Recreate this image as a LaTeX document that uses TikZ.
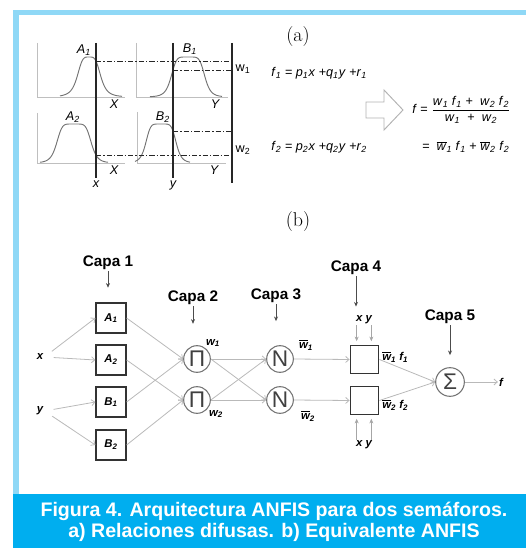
\documentclass[tikz,border=0pt]{standalone}
\usepackage{fontspec}
\usepackage{amsmath}
\usepackage{xcolor}
\usetikzlibrary{arrows.meta}
\newfontfamily\arial{Liberation Sans}
\definecolor{framebl}{RGB}{143,216,246}
\definecolor{capbl}{RGB}{0,174,239}
\definecolor{linkgr}{RGB}{185,185,185}
\definecolor{nodegr}{RGB}{115,115,115}
\newcommand{\sv}[2]{\textit{#1}\textsubscript{\textit{#2}}}
\newcommand{\wb}[1]{$\overline{\mbox{\textit{w}}}$\textsubscript{\textit{#1}}}

\begin{document}
\begin{tikzpicture}[x=0.75pt,y=0.75pt,yscale=-1,xscale=1,
  every node/.style={font=\arial\fontsize{9.5}{10}\selectfont,inner sep=0.75pt},
  lnk/.style={draw=linkgr,line width=0.6pt,-{Straight Barb[length=2.5pt,width=4.5pt]}},
  capaarr/.style={draw=black!70,line width=0.5pt,-{Stealth[length=3.5pt,width=3pt]}},
  capa/.style={font=\arial\bfseries\fontsize{11.5}{13}\selectfont},
  mfbox/.style={draw=black!80,line width=0.9pt,minimum size=22.5pt,inner sep=0pt,font=\arial\bfseries\itshape\fontsize{8.5}{10}\selectfont},
  prodbox/.style={draw=black!80,line width=0.9pt,minimum width=21.5pt,minimum height=20.5pt,inner sep=0pt},
  opnode/.style={circle,draw=nodegr,line width=0.8pt,minimum size=20pt,inner sep=0pt,text=black!75,font=\arial\fontsize{17}{17}\selectfont},
  lbl/.style={font=\arial\bfseries\itshape\fontsize{8.5}{10}\selectfont},
  axis/.style={draw=black!25,line width=0.6pt},
  mf/.style={draw=black!55,line width=0.7pt},
  cut/.style={draw=black!85,line width=0.8pt},
  level/.style={draw=black!85,line width=0.7pt,dash pattern=on 4pt off 1.5pt on 1pt off 1.5pt},
  captxt/.style={text=white,font=\arial\bfseries\fontsize{14.7}{15.75}\selectfont}]
  \useasboundingbox (0,0) rectangle (526,548);
  %Frame
  \fill[framebl] (13,10) rectangle (526,15);
  \fill[framebl] (13,10) rectangle (19,494);
  \fill[capbl] (13,494) rectangle (526,548);

  % Text Node
  \node[font=\rmfamily\fontsize{15}{15}\selectfont] (ta) at (298,37) {(a)};
  \node[font=\rmfamily\fontsize{15}{15}\selectfont] (tb) at (298,222) {(b)};

  %Axes
  \draw[axis] (37,43) -- (37,97) -- (125,97);
  \draw[axis] (136,43) -- (136,97) -- (228,97);
  \draw[axis] (37,113) -- (37,163) -- (125,163);
  \draw[axis] (137,112) -- (137,163) -- (226,163);
  %Membership curves
  \draw[mf] plot[domain=60:122,samples=70,smooth] (\x,{97-40/(1+(abs(\x-89)/12)^4)});
  \draw[mf] plot[domain=150:222,samples=70,smooth] (\x,{97-40/(1+(abs(\x-188)/17)^6)});
  \draw[mf] plot[domain=40:108,samples=70,smooth] (\x,{163-39/(1+(abs(\x-74)/17.5)^6)});
  \draw[mf] plot[domain=135:190,samples=70,smooth] (\x,{163-39/(1+(abs(\x-161)/15.4)^6)});
  %Cut lines
  \draw[cut] (96,43) -- (96,178);
  \draw[cut] (173,43) -- (173,178);
  \draw[cut] (232,43) -- (232,183);
  \draw[level] (96,61) -- (232,61);
  \draw[level] (173,70) -- (232,70);
  \draw[level] (173,131) -- (232,131);
  \draw[level] (96,155) -- (232,155);

  % Text Node
  \node[font=\arial\itshape\fontsize{9.5}{10}\selectfont] (la1) at (84,50) {A\textsubscript{1}};
  \node[font=\arial\itshape\fontsize{9.5}{10}\selectfont] (lb1) at (190,49) {B\textsubscript{1}};
  \node[font=\arial\itshape\fontsize{9.5}{10}\selectfont] (la2) at (73,117) {A\textsubscript{2}};
  \node[font=\arial\itshape\fontsize{9.5}{10}\selectfont] (lb2) at (163,117) {B\textsubscript{2}};
  \node[font=\arial\itshape\fontsize{9.5}{10}\selectfont] (lx1) at (114,104) {X};
  \node[font=\arial\itshape\fontsize{9.5}{10}\selectfont] (ly1) at (215,104) {Y};
  \node[font=\arial\itshape\fontsize{9.5}{10}\selectfont] (lx2) at (114,170) {X};
  \node[font=\arial\itshape\fontsize{9.5}{10}\selectfont] (ly2) at (214,170) {Y};
  \node[font=\arial\itshape\fontsize{9.5}{10}\selectfont] (lx) at (96,184) {x};
  \node[font=\arial\itshape\fontsize{9.5}{10}\selectfont] (ly) at (173,185) {y};
  \node (lw1) at (243,69) {w\textsubscript{1}};
  \node (lw2) at (243,150) {w\textsubscript{2}};
  \node[anchor=west] (rule1) at (270,73) {\sv{f}{1} = \sv{p}{1}\textit{x} +\sv{q}{1}\textit{y} +\sv{r}{1}};
  \node[anchor=west] (rule2) at (270,147) {\sv{f}{2} = \sv{p}{2}\textit{x} +\sv{q}{2}\textit{y} +\sv{r}{2}};
  %Hollow arrow
  \draw[draw=black!30,line width=0.7pt,fill=white] (366,102) -- (384,102) -- (384,90) -- (403,110) -- (384,130) -- (384,118) -- (366,118) -- cycle;
  \node[anchor=west] (ffrac) at (411,110) {\textit{f} = $\dfrac{\mbox{\sv{w}{1} \sv{f}{1} + \ \sv{w}{2} \sv{f}{2}}}{\mbox{\sv{w}{1} \ + \ \sv{w}{2}}}$};
  \node[anchor=west] (fbar) at (421,147) {= \ \wb{1} \sv{f}{1} + \wb{2} \sv{f}{2}};

  %Network nodes
  \node[lbl] (xin) at (40,357) {x};
  \node[lbl] (yin) at (40,411) {y};
  \node[mfbox] (A1) at (111,318) {A\textsubscript{1}};
  \node[mfbox] (A2) at (111,360) {A\textsubscript{2}};
  \node[mfbox] (B1) at (111,402) {B\textsubscript{1}};
  \node[mfbox] (B2) at (111,445) {B\textsubscript{2}};
  \node[opnode] (P1) at (197,359) {Π};
  \node[opnode] (P2) at (197,400) {Π};
  \node[opnode] (N1) at (280,359) {N};
  \node[opnode] (N2) at (280,400) {N};
  \node[prodbox] (L1) at (364.5,359.5) {};
  \node[prodbox] (L2) at (364.5,400.5) {};
  \node[opnode,minimum size=21.5pt] (S) at (450,382) {Σ};
  \node[lbl] (fout) at (501,382) {f};

  %Layer labels
  \node[capa] (c1) at (108,263) {Capa 1};
  \node[capa] (c2) at (193,298) {Capa 2};
  \node[capa] (c3) at (276,296) {Capa 3};
  \node[capa] (c4) at (356,268) {Capa 4};
  \node[capa] (c5) at (450,317) {Capa 5};
  \node[lbl] (xy1) at (364,320) {x y};
  \node[lbl] (xy2) at (364,445) {x y};
  \draw[capaarr,shorten >=11pt] (c1.south) -- (c1.south |- A1.north);
  \draw[capaarr,shorten >=16pt] (c2.south) -- (c2.south |- P1.north);
  \draw[capaarr,shorten >=18pt] (c3.south) -- (c3.south |- N1.north);
  \draw[capaarr,shorten >=6pt] (c4.south) -- (c4.south |- xy1.north);
  \draw[capaarr,shorten >=9pt] (c5.south) -- (c5.south |- S.north);

  % Text Node
  \draw[capaarr,draw=black!35,shorten >=3pt] ([xshift=-5.5pt]xy1.south) -- ([xshift=-5.5pt]xy1.south |- L1.north);
  \draw[capaarr,draw=black!35,shorten >=3pt] ([xshift=5.5pt]xy1.south) -- ([xshift=5.5pt]xy1.south |- L1.north);
  \draw[capaarr,draw=black!35,shorten >=3pt] ([xshift=-5.5pt]xy2.north) -- ([xshift=-5.5pt]xy2.north |- L2.south);
  \draw[capaarr,draw=black!35,shorten >=3pt] ([xshift=5.5pt]xy2.north) -- ([xshift=5.5pt]xy2.north |- L2.south);
  \node[lbl] (w1) at (213,343) {w\textsubscript{1}};
  \node[lbl] (w2) at (216,414) {w\textsubscript{2}};
  \node[lbl] (wb1) at (306,345) {\wb{1}};
  \node[lbl] (wb2) at (308,416) {\wb{2}};
  \node[lbl,anchor=west] (wf1) at (381,357) {\wb{1} \sv{f}{1}};
  \node[lbl,anchor=west] (wf2) at (381,405) {\wb{2} \sv{f}{2}};

  %Connections
  \draw[lnk,shorten <=7pt] (xin.east) -- (A1.west);
  \draw[lnk,shorten <=7pt] (xin.east) -- (A2.west);
  \draw[lnk,shorten <=7pt] (yin.east) -- (B1.west);
  \draw[lnk,shorten <=7pt] (yin.east) -- (B2.west);
  \draw[lnk] (A1.east) -- (P1.west);
  \draw[lnk] (B1.east) -- (P1.west);
  \draw[lnk] (A2.east) -- (P2.west);
  \draw[lnk] (B2.east) -- (P2.west);
  \draw[lnk] (P1.east) -- (N1.west);
  \draw[lnk] (P1.east) -- (N2.west);
  \draw[lnk] (P2.east) -- (N1.west);
  \draw[lnk] (P2.east) -- (N2.west);
  \draw[lnk] (N1.east) -- (L1.west);
  \draw[lnk] (N2.east) -- (L2.west);
  \draw[lnk] (L1.east) -- (S.west);
  \draw[lnk] (L2.east) -- (S.west);
  \draw[lnk] (S.east) -- (fout.west);

  % Caption
  \node[captxt,anchor=base] (cap1) at (274,516) {Figura 4. Arquitectura ANFIS para dos semáforos.};
  \node[captxt,anchor=base] (cap2) at (274,537) {a) Relaciones difusas. b) Equivalente ANFIS};
\end{tikzpicture}
\end{document}
